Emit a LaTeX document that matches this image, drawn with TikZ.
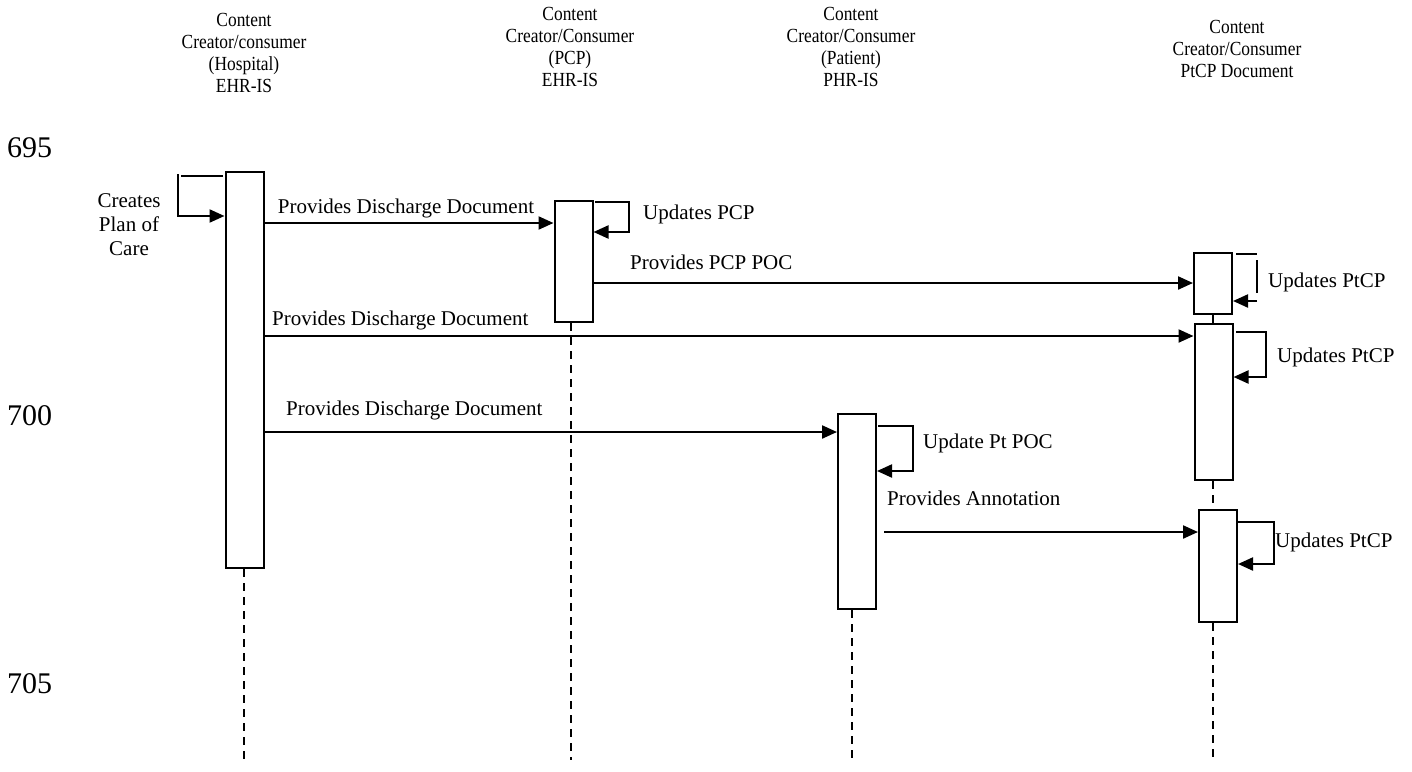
\documentclass[tikz,border=0pt]{standalone}
\usepackage{fontspec}
\setmainfont{Liberation Serif}
\newfontfamily\headfont[FakeStretch=0.87]{Liberation Serif}
\usetikzlibrary{arrows.meta}
\begin{document}
\begin{tikzpicture}[x=1pt,y=-1pt,
  act/.style={draw,line width=2pt,fill=white,minimum width=38pt,inner sep=0},
  msg/.style={line width=2.2pt,-{Triangle[length=15pt,width=13pt]}},
  plain/.style={line width=2.2pt},
  life/.style={line width=2pt,dash pattern=on 8pt off 6pt},
  lbl/.style={font=\fontsize{21}{24}\selectfont,inner sep=0},
  head/.style={font=\headfont\fontsize{20}{22}\selectfont,align=center,inner sep=0},
  num/.style={font=\fontsize{30}{32}\selectfont,inner sep=0,anchor=west},
  ]
\useasboundingbox (0,0) rectangle (1412,771);

% headers
\node[head] (c1) at (244,53) {Content\\Creator/consumer\\(Hospital)\\EHR-IS};
\node[head] (c2) at (570,47) {Content\\Creator/Consumer\\(PCP)\\EHR-IS};
\node[head] (c3) at (851,47) {Content\\Creator/Consumer\\(Patient)\\PHR-IS};
\node[head] (c4) at (1237,49) {Content\\Creator/Consumer\\PtCP Document};

% line numbers
\node[num] (n1) at (7,148) {695};
\node[num] (n2) at (7,416) {700};
\node[num] (n3) at (7,684) {705};

% lifeline ends
\coordinate (e1) at (244,760);
\coordinate (e2) at (571,760);
\coordinate (e3) at (852,760);
\coordinate (e4) at (1213,760);

% activation boxes
\node[act,minimum height=396pt] (h1) at (244.5,370) {};
\node[act,minimum height=121pt] (p1) at (573.5,261.5) {};
\node[act,minimum height=195pt] (a1) at (857,511.5) {};
\node[act,minimum height=61pt] (t1) at (1213,283.5) {};
\node[act,minimum height=156pt] (t2) at (1213.5,402) {};
\node[act,minimum height=112pt] (t3) at (1218,566) {};

% lifelines
\draw[life] (h1.south -| e1) -- (e1);
\draw[life] (p1.south -| e2) -- (e2);
\draw[life] (a1.south -| e3) -- (e3);
\draw[life] (t2.south -| e4) -- (t3.north -| e4);
\draw[life] (t3.south -| e4) -- (e4);
\draw[plain] (t1.south -| e4) -- (t2.north -| e4);

% message levels
\coordinate (y1) at (0,223);
\coordinate (y2) at (0,283);
\coordinate (y3) at (0,336);
\coordinate (y4) at (0,432);
\coordinate (y5) at (0,532);

\draw[msg] (h1.east |- y1) -- (p1.west |- y1);
\node[lbl] (l1) at (406,208) {Provides Discharge Document};
\draw[msg] (p1.east |- y2) -- (t1.west |- y2);
\node[lbl,anchor=west] (l2) at (630,262) {Provides PCP POC};
\draw[msg] (h1.east |- y3) -- (t2.west |- y3);
\node[lbl,anchor=west] (l3) at (272,320) {Provides Discharge Document};
\draw[msg] (h1.east |- y4) -- (a1.west |- y4);
\node[lbl,anchor=west] (l4) at (286,410) {Provides Discharge Document};
\draw[msg] ([xshift=7pt]a1.east |- y5) -- (t3.west |- y5);
\node[lbl,anchor=west] (l5) at (887,498) {Provides Annotation};

% self loops
\draw[plain] (223,176) -- (181,176);
\draw[msg] (178,174) -- (178,216) -- (h1.west |- 0,216);
\node[lbl,align=center] (s1) at (129,225) {Creates\\Plan of\\Care};

\draw[msg] (595,202) -- (629,202) -- (629,232) -- (p1.east |- 0,232);
\node[lbl,anchor=west] (s2) at (643,214) {Updates PCP};

\draw[msg] (878,426) -- (913,426) -- (913,471) -- (a1.east |- 0,471);
\node[lbl,anchor=west] (s3) at (923,443) {Update Pt POC};

\draw[plain] (1236,254) -- (1257,254);
\draw[plain] (1257,260) -- (1257,293);
\draw[msg] (1257,301) -- (t1.east |- 0,301);
\node[lbl,anchor=west] (s4) at (1268,282) {Updates PtCP};

\draw[msg] (1236,332) -- (1266,332) -- (1266,377) -- (t2.east |- 0,377);
\node[lbl,anchor=west] (s5) at (1277,357) {Updates PtCP};

\draw[msg] (1238,522) -- (1274,522) -- (1274,564) -- (t3.east |- 0,564);
\node[lbl,anchor=west] (s6) at (1275,542) {Updates PtCP};
\end{tikzpicture}
\end{document}
